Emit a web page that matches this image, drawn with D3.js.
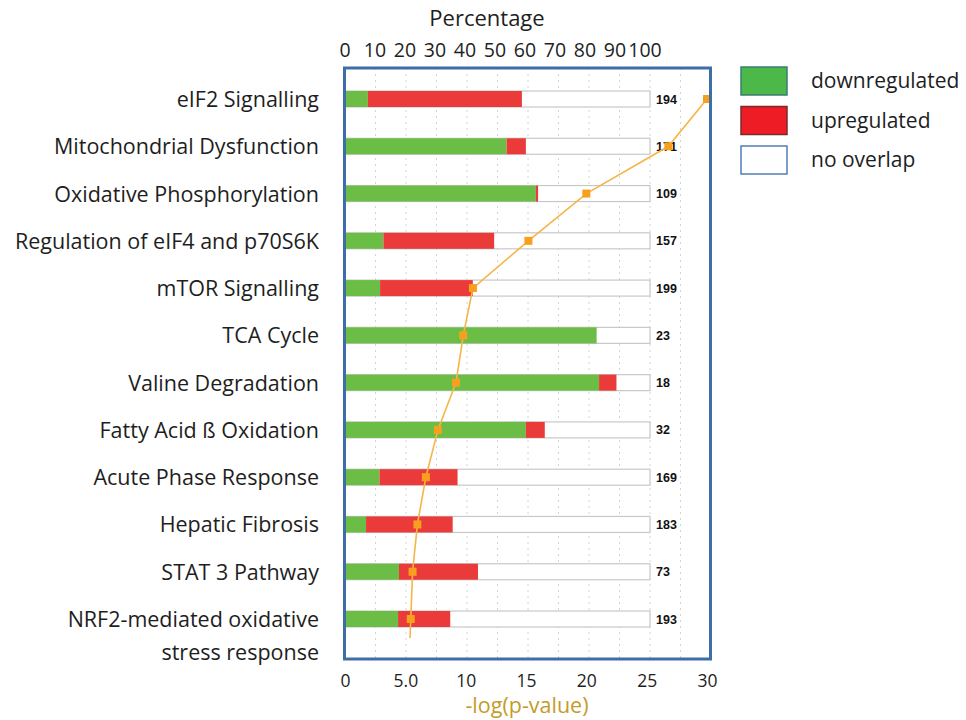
<!DOCTYPE html>
<html><head><meta charset="utf-8">
<script src="https://cdn.jsdelivr.net/npm/d3@7"></script>
<style>body{margin:0;background:#fff}svg{display:block}text{font-family:"Open Sans",sans-serif}</style>
</head><body>
<svg id="c" width="966" height="720"></svg>
<script>
const categories = ["eIF2 Signalling","Mitochondrial Dysfunction","Oxidative Phosphorylation","Regulation of eIF4 and p70S6K","mTOR Signalling","TCA Cycle","Valine Degradation","Fatty Acid ß Oxidation","Acute Phase Response","Hepatic Fibrosis","STAT 3 Pathway","NRF2-mediated oxidative\nstress response"];
const downregulated = [7.5, 53, 62.6, 12.6, 11.5, 82.5, 83.3, 59.3, 11.3, 6.9, 17.7, 17.4];
const upregulated   = [50.5, 6.3, 0.7, 36.3, 30.4, 0, 5.7, 6.2, 25.6, 28.4, 25.9, 17.1];
const totals = [194, 171, 109, 157, 199, 23, 18, 32, 169, 183, 73, 193];
const negLogP = [30.0, 26.8, 20.0, 15.2, 10.6, 9.8, 9.2, 7.7, 6.7, 6.0, 5.6, 5.45];
const pctTicks = [0,10,20,30,40,50,60,70,80,90,100];
const pctGrid = [10,20,30,40,50,60,70,80,90,100,110];
const pTicks = [0,5,10,15,20,25,30];
const pTickLabels = ["0","5.0","10","15","20","25","30"];
const legendItems = ["downregulated","upregulated","no overlap"];

const svg = d3.select("#c");
const xPct = d3.scaleLinear().domain([0,100]).range([345,650]);
const xPctLabel = d3.scaleLinear().domain([0,100]).range([345,645]);
const xP = d3.scaleLinear().domain([0,30]).range([345,707]);
const y = d3.scalePoint().domain(categories).range([99,619]);
const barH = 16;

// gridlines
svg.append("g").selectAll("line").data(pctGrid).join("line")
  .attr("x1",d=>xPct(d)).attr("x2",d=>xPct(d)).attr("y1",68).attr("y2",659)
  .attr("stroke","#d4d4d4").attr("stroke-width",1).attr("stroke-dasharray","2,4");

// bars
const rows = svg.append("g").selectAll("g").data(categories).join("g");
rows.append("rect").attr("x",xPct(0)).attr("y",d=>y(d)-barH/2)
  .attr("width",xPct(100)-xPct(0)).attr("height",barH)
  .attr("fill","#fff").attr("stroke","#c8c8c8").attr("stroke-width",1.2);
rows.append("rect").attr("x",xPct(0)).attr("y",d=>y(d)-barH/2)
  .attr("width",(d,i)=>xPct(downregulated[i])-xPct(0)).attr("height",barH)
  .attr("fill","#6cbd45");
rows.append("rect").attr("x",(d,i)=>xPct(downregulated[i])).attr("y",d=>y(d)-barH/2)
  .attr("width",(d,i)=>xPct(downregulated[i]+upregulated[i])-xPct(downregulated[i])).attr("height",barH)
  .attr("fill","#ea3a3a");
rows.append("text").attr("x",xPct(100)+6).attr("y",d=>y(d)+4.5)
  .style("font-family","'Liberation Sans', Arial, sans-serif")
  .attr("font-weight","bold").attr("font-size",12.5).attr("fill","#111")
  .text((d,i)=>totals[i]);

// category labels
const lab = svg.append("g").selectAll("text").data(categories).join("text")
  .attr("x",319).attr("y",d=>y(d)+8).attr("text-anchor","end")
  .attr("font-size",21.5).attr("fill","#1e1e1e");
lab.each(function(d){
  const parts = d.split("\n");
  d3.select(this).selectAll("tspan").data(parts).join("tspan")
    .attr("x",319).attr("dy",(p,j)=>j===0?0:33).text(p=>p);
});

// -log(p) line
const pts = categories.map((c,i)=>[xP(negLogP[i]), y(c)]);
const n = pts.length;
const tail = [pts[n-1][0] + (pts[n-1][0]-pts[n-2][0])*0.4, pts[n-1][1] + (pts[n-1][1]-pts[n-2][1])*0.4];
svg.append("path").datum(pts.concat([tail]))
  .attr("d",d3.line().curve(d3.curveLinear))
  .attr("fill","none").attr("stroke","#f5b547").attr("stroke-width",1.6);
svg.append("g").selectAll("rect").data(pts).join("rect")
  .attr("x",d=>d[0]-4).attr("y",d=>d[1]-4).attr("width",8).attr("height",8)
  .attr("fill","#f7a01e");

// frame
svg.append("rect").attr("x",344.5).attr("y",68).attr("width",366).attr("height",591)
  .attr("fill","none").attr("stroke","#3e6ea6").attr("stroke-width",3);

// top axis
svg.append("text").attr("x",487).attr("y",26).attr("text-anchor","middle")
  .attr("font-size",22).attr("fill","#1e1e1e").text("Percentage");
svg.append("g").selectAll("text").data(pctTicks).join("text")
  .attr("x",d=>xPctLabel(d)).attr("y",57).attr("text-anchor","middle")
  .attr("font-size",19.5).attr("fill","#1e1e1e").text(d=>d);

// bottom axis
const bAxis = d3.axisBottom(xP).tickValues(pTicks).tickFormat((d,i)=>pTickLabels[i]).tickSize(0).tickPadding(8);
const bg = svg.append("g").attr("transform","translate(0,667)").call(bAxis);
bg.select(".domain").remove();
bg.selectAll("text").attr("font-size",17.5).attr("fill","#1e1e1e").style("font-family","'Open Sans',sans-serif");
svg.append("text").attr("x",527).attr("y",713).attr("text-anchor","middle")
  .attr("font-size",21.5).attr("fill","#c49b2a").text("-log(p-value)");

// legend
const lfill = ["#4cb84a","#ee1d25","#ffffff"];
const lstroke = ["#3a7d74","#7a2a2a","#4f7fb8"];
const lg = svg.append("g").selectAll("g").data(legendItems).join("g")
  .attr("transform",(d,i)=>`translate(741,${67+i*39.5})`);
lg.append("rect").attr("width",46).attr("height",28)
  .attr("fill",(d,i)=>lfill[i]).attr("stroke",(d,i)=>lstroke[i]).attr("stroke-width",1.5);
lg.append("text").attr("x",70).attr("y",21).attr("font-size",21).attr("fill","#1e1e1e").text(d=>d);
</script>
</body></html>
